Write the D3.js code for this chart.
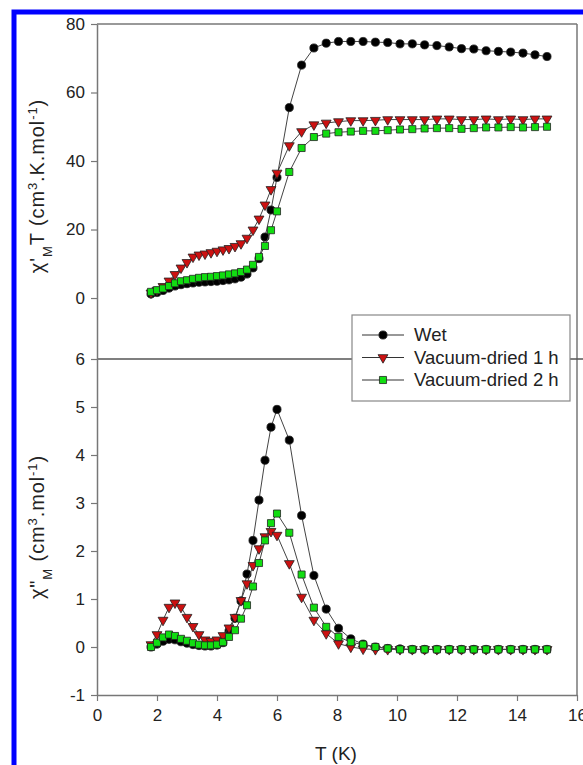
<!DOCTYPE html>
<html>
<head>
<meta charset="utf-8">
<script src="https://cdn.jsdelivr.net/npm/d3@7"></script>
<style>
  body { margin: 0; background: #fff; }
  svg { display: block; font-family: "Liberation Sans", Arial, sans-serif; }
</style>
</head>
<body>
<svg id="chart" width="583" height="765"></svg>
<script>
/* global d3 */

var width = 583,
  height = 765;

// Temperatures (K), shared by every series
var temps = [ 1.8, 2.0, 2.2, 2.4, 2.6, 2.8, 3.0, 3.2, 3.4, 3.6, 3.8, 4.0, 4.2, 4.4, 4.6, 4.8, 5.0, 5.2, 5.4, 5.6, 5.8, 6.0,
  6.41, 6.82, 7.23, 7.64, 8.05, 8.46, 8.87, 9.28, 9.69, 10.1, 10.51, 10.92, 11.33, 11.74, 12.15, 12.56, 12.97, 13.38, 13.79, 14.2, 14.6, 15.0 ];

// chi'M T (cm3.K.mol-1)
var wetChiT = [ 1.2, 1.6, 2.2, 2.9, 3.5, 3.9, 4.2, 4.4, 4.6, 4.7, 4.8, 4.9, 5.1, 5.3, 5.6, 6.1, 7.0, 8.8, 11.5, 17.8, 25.7, 35.2,
  55.6, 68.0, 73.0, 74.4, 74.9, 74.9, 74.9, 74.7, 74.6, 74.2, 74.2, 73.9, 73.7, 73.3, 72.8, 72.7, 72.2, 72.0, 71.8, 71.5, 71.0, 70.5 ];
var dried1ChiT = [ 1.5, 2.3, 3.4, 5.0, 6.9, 8.8, 10.4, 12.0, 12.6, 12.9, 13.3, 13.7, 14.1, 14.5, 15.1, 15.9, 17.5, 19.9, 23.1, 27.2, 31.7, 36.5,
  44.5, 48.6, 50.6, 51.1, 51.5, 51.8, 51.8, 51.9, 52.1, 52.1, 52.1, 52.1, 52.3, 52.3, 52.1, 52.1, 52.3, 52.1, 52.3, 52.1, 52.3, 52.3 ];
var dried2ChiT = [ 1.8, 2.3, 2.8, 3.5, 4.3, 4.9, 5.2, 5.6, 5.9, 6.1, 6.2, 6.4, 6.6, 6.9, 7.2, 7.6, 8.3, 9.7, 12.0, 15.2, 19.8, 25.3,
  36.8, 43.8, 47.0, 48.0, 48.4, 48.6, 48.8, 48.8, 49.0, 49.2, 49.3, 49.5, 49.6, 49.6, 49.4, 49.6, 49.8, 49.8, 49.9, 49.8, 49.9, 50.0 ];

// chi''M (cm3.mol-1)
var wetChi2 = [ 0.0, 0.06, 0.12, 0.16, 0.15, 0.11, 0.08, 0.05, 0.03, 0.02, 0.02, 0.04, 0.09, 0.33, 0.6, 0.96, 1.52, 2.22, 3.06, 3.89, 4.58, 4.95,
  4.31, 2.74, 1.49, 0.79, 0.39, 0.17, 0.06, 0.0, -0.03, -0.04, -0.05, -0.05, -0.05, -0.05, -0.05, -0.05, -0.05, -0.05, -0.05, -0.05, -0.05, -0.05 ];
var dried1Chi2 = [ 0.05, 0.26, 0.56, 0.83, 0.92, 0.83, 0.62, 0.43, 0.26, 0.15, 0.12, 0.15, 0.24, 0.40, 0.62, 0.97, 1.32, 1.70, 2.05, 2.30, 2.41, 2.33,
  1.74, 1.04, 0.56, 0.28, 0.07, 0.0, -0.04, -0.05, -0.05, -0.05, -0.05, -0.05, -0.05, -0.05, -0.05, -0.05, -0.05, -0.05, -0.05, -0.05, -0.05, -0.05 ];
var dried2Chi2 = [ 0.0, 0.09, 0.2, 0.26, 0.23, 0.17, 0.13, 0.08, 0.05, 0.035, 0.035, 0.05, 0.10, 0.21, 0.35, 0.59, 0.87, 1.26, 1.75, 2.22, 2.58, 2.78,
  2.38, 1.51, 0.82, 0.42, 0.21, 0.10, 0.05, 0.0, -0.03, -0.05, -0.05, -0.05, -0.05, -0.05, -0.05, -0.05, -0.05, -0.05, -0.05, -0.05, -0.05, -0.05 ];

var seriesNames = [ "Wet", "Vacuum-dried 1 h", "Vacuum-dried 2 h" ];
var xTicks = [ 0, 2, 4, 6, 8, 10, 12, 14, 16 ];
var upperTicks = [ 0, 20, 40, 60, 80 ];
var lowerTicks = [ -1, 0, 1, 2, 3, 4, 5, 6 ];

var plotLeft = 97, plotRight = 577, plotTop = 24, plotMid = 359, plotBottom = 695;
var axisColor = "#777";

var svg = d3.select( "#chart" );

// blue frame
svg.append( "rect" )
  .attr( "x", 14 ).attr( "y", 12 )
  .attr( "width", 640 ).attr( "height", 820 )
  .attr( "fill", "#fff" )
  .attr( "stroke", "#0000ff" )
  .attr( "stroke-width", 5 );

var x = d3.scaleLinear().domain( [ 0, 16 ] ).range( [ plotLeft, plotRight ] );
var yTop = d3.scaleLinear().domain( [ -17.8, 80 ] ).range( [ plotMid, plotTop ] );
var yBot = d3.scaleLinear().domain( [ -1, 6 ] ).range( [ plotBottom, plotMid ] );

var tickFormat = d => String( d );

function styleAxis( g ) {
  g.select( ".domain" ).attr( "stroke", axisColor ).attr( "stroke-width", 1.5 );
  g.selectAll( ".tick line" ).attr( "stroke", axisColor ).attr( "stroke-width", 1.2 );
  g.selectAll( ".tick text" )
    .attr( "fill", "#222" )
    .style( "font-size", "17px" )
    .style( "font-family", "'Liberation Sans', Arial, sans-serif" );
}

// frame lines
svg.append( "line" )
  .attr( "x1", plotLeft ).attr( "x2", plotRight ).attr( "y1", plotTop ).attr( "y2", plotTop )
  .attr( "stroke", axisColor ).attr( "stroke-width", 1.5 );
svg.append( "line" )
  .attr( "x1", plotRight ).attr( "x2", plotRight ).attr( "y1", plotTop ).attr( "y2", plotBottom )
  .attr( "stroke", axisColor ).attr( "stroke-width", 1.5 );
svg.append( "line" )
  .attr( "x1", plotLeft ).attr( "x2", plotRight + 6 ).attr( "y1", plotMid ).attr( "y2", plotMid )
  .attr( "stroke", "#555" ).attr( "stroke-width", 1.5 );

svg.append( "g" )
  .attr( "transform", "translate(" + plotLeft + ",0)" )
  .call( d3.axisLeft( yTop ).tickValues( upperTicks ).tickFormat( tickFormat ).tickSize( 6 ).tickPadding( 6 ).tickSizeOuter( 0 ) )
  .call( styleAxis );

svg.append( "g" )
  .attr( "transform", "translate(" + plotLeft + ",0)" )
  .call( d3.axisLeft( yBot ).tickValues( lowerTicks ).tickFormat( tickFormat ).tickSize( 6 ).tickPadding( 6 ).tickSizeOuter( 0 ) )
  .call( styleAxis );

svg.append( "g" )
  .attr( "transform", "translate(0," + plotBottom + ")" )
  .call( d3.axisBottom( x ).tickValues( xTicks ).tickFormat( tickFormat ).tickSize( 6 ).tickPadding( 8 ).tickSizeOuter( 0 ) )
  .call( styleAxis );

// series
var colors = [ "#000000", "#cc1111", "#11dd11" ];
var symbols = [ d3.symbolCircle, d3.symbolTriangle, d3.symbolSquare ];
var sizes = [ 52, 42, 50 ];

function drawPanel( yScale, seriesValues ) {
  seriesValues.forEach( ( vals, s ) => {
    var pts = temps.map( ( t, i ) => [ t, vals[ i ] ] );
    svg.append( "path" )
      .datum( pts )
      .attr( "fill", "none" )
      .attr( "stroke", "#444" )
      .attr( "stroke-width", 1 )
      .attr( "d", d3.line().x( d => x( d[ 0 ] ) ).y( d => yScale( d[ 1 ] ) ) );
    svg.selectAll( null )
      .data( pts )
      .enter().append( "path" )
        .attr( "transform", d => "translate(" + x( d[ 0 ] ) + "," + yScale( d[ 1 ] ) + ")" + ( s === 1 ? " rotate(180)" : "" ) )
        .attr( "d", d3.symbol().type( symbols[ s ] ).size( sizes[ s ] ) )
        .attr( "fill", colors[ s ] )
        .attr( "stroke", "#222" )
        .attr( "stroke-width", 0.8 );
  } );
}

drawPanel( yTop, [ wetChiT, dried1ChiT, dried2ChiT ] );
drawPanel( yBot, [ wetChi2, dried1Chi2, dried2Chi2 ] );

// legend
var legend = svg.append( "g" );
legend.append( "rect" )
  .attr( "x", 352 ).attr( "y", 315 )
  .attr( "width", 218 ).attr( "height", 86 )
  .attr( "fill", "#fff" )
  .attr( "stroke", "#888" )
  .attr( "stroke-width", 1.2 );

seriesNames.forEach( ( name, s ) => {
  var ly = 335 + s * 22.5;
  legend.append( "line" )
    .attr( "x1", 362 ).attr( "x2", 404 ).attr( "y1", ly ).attr( "y2", ly )
    .attr( "stroke", "#333" ).attr( "stroke-width", 1.2 );
  legend.append( "path" )
    .attr( "transform", "translate(383," + ly + ")" + ( s === 1 ? " rotate(180)" : "" ) )
    .attr( "d", d3.symbol().type( symbols[ s ] ).size( sizes[ s ] ) )
    .attr( "fill", colors[ s ] )
    .attr( "stroke", "#222" )
    .attr( "stroke-width", 0.8 );
  legend.append( "text" )
    .attr( "x", 414 ).attr( "y", ly + 6 )
    .attr( "fill", "#222" )
    .style( "font-size", "18.5px" )
    .text( name );
} );

// axis titles
svg.append( "text" )
  .attr( "x", ( plotLeft + plotRight ) / 2 - 1 ).attr( "y", 760 )
  .attr( "text-anchor", "middle" )
  .attr( "fill", "#222" )
  .style( "font-size", "19px" )
  .text( "T (K)" );

var upperLabel = svg.append( "text" )
  .attr( "transform", "translate(44,186) rotate(-90)" )
  .attr( "text-anchor", "middle" )
  .attr( "fill", "#222" )
  .style( "font-size", "20px" )
  .style( "letter-spacing", "0.9px" );
upperLabel.append( "tspan" ).text( "χ'" );
upperLabel.append( "tspan" ).attr( "baseline-shift", "sub" ).style( "font-size", "13px" ).text( "M" );
upperLabel.append( "tspan" ).text( "T (cm" );
upperLabel.append( "tspan" ).attr( "baseline-shift", "super" ).style( "font-size", "13px" ).text( "3" );
upperLabel.append( "tspan" ).text( ".K.mol" );
upperLabel.append( "tspan" ).attr( "baseline-shift", "super" ).style( "font-size", "13px" ).text( "-1" );
upperLabel.append( "tspan" ).text( ")" );

var lowerLabel = svg.append( "text" )
  .attr( "transform", "translate(44,527) rotate(-90)" )
  .attr( "text-anchor", "middle" )
  .attr( "fill", "#222" )
  .style( "font-size", "20px" )
  .style( "letter-spacing", "0.9px" );
lowerLabel.append( "tspan" ).text( "χ\"" );
lowerLabel.append( "tspan" ).attr( "baseline-shift", "sub" ).style( "font-size", "13px" ).text( "M" );
lowerLabel.append( "tspan" ).text( " (cm" );
lowerLabel.append( "tspan" ).attr( "baseline-shift", "super" ).style( "font-size", "13px" ).text( "3" );
lowerLabel.append( "tspan" ).text( ".mol" );
lowerLabel.append( "tspan" ).attr( "baseline-shift", "super" ).style( "font-size", "13px" ).text( "-1" );
lowerLabel.append( "tspan" ).text( ")" );
</script>
</body>
</html>
